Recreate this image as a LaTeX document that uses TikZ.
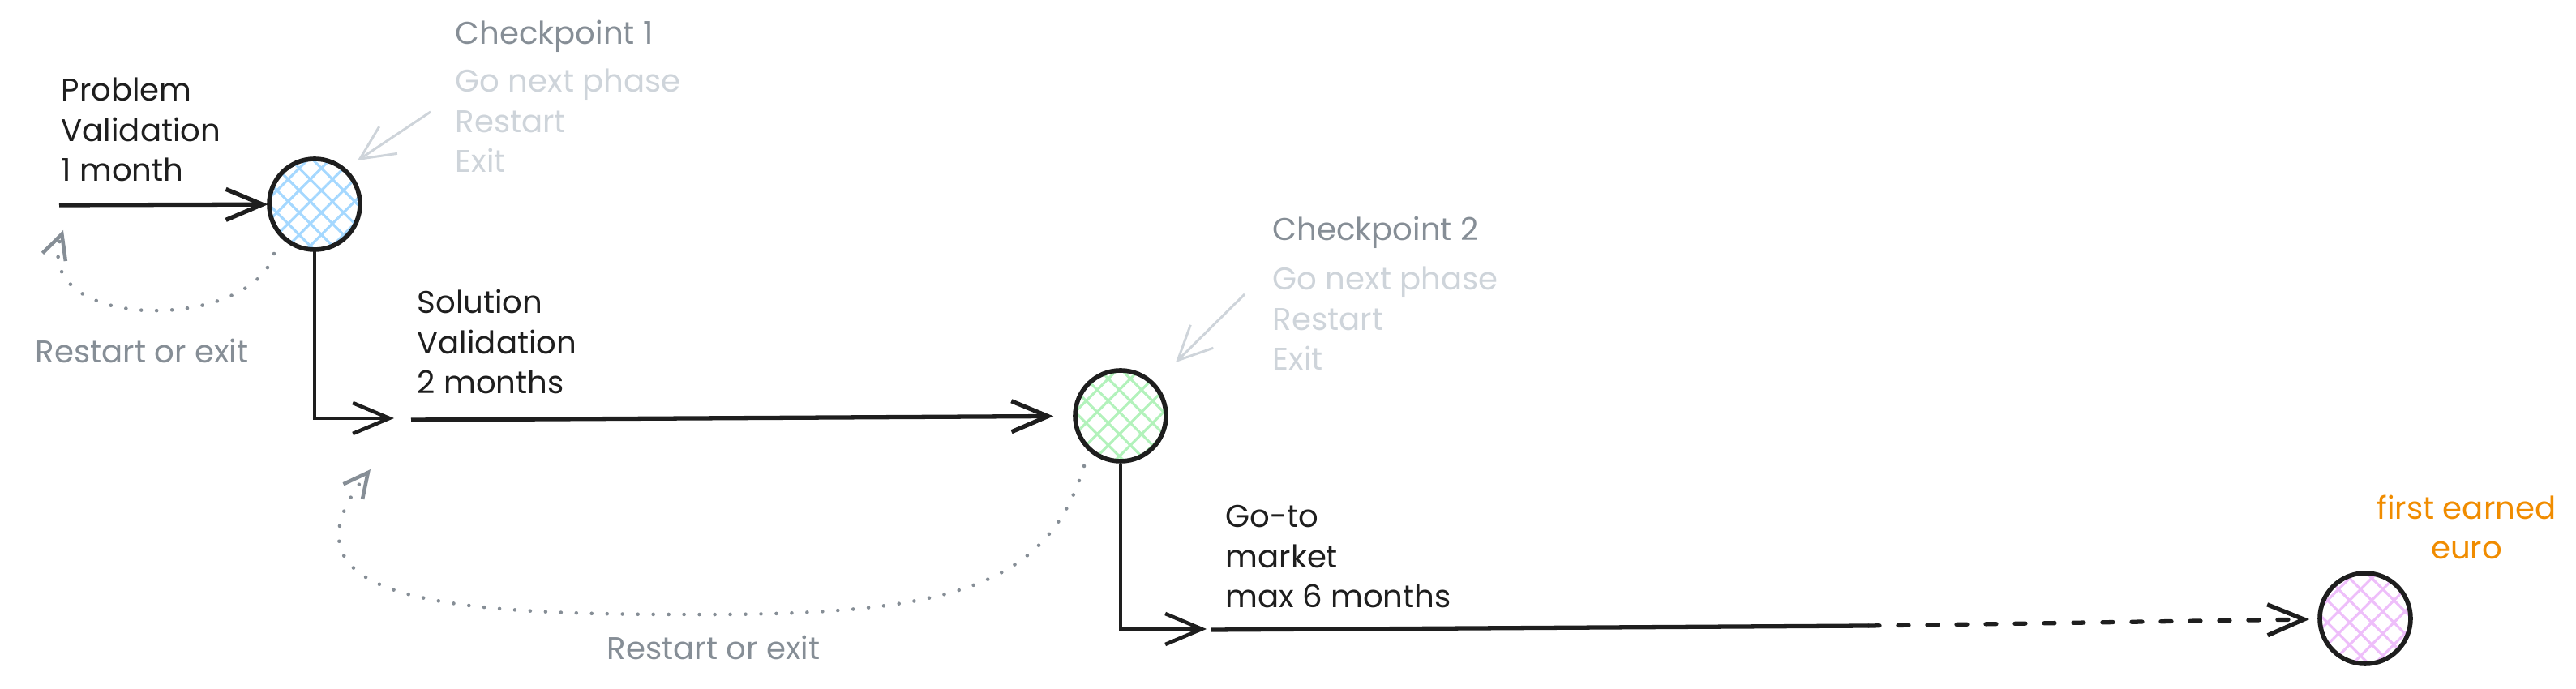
\documentclass[tikz,border=0pt]{standalone}
\usepackage{fontspec}
\setmainfont{Poppins}
\usetikzlibrary{arrows.meta,patterns.meta}
\definecolor{ink}{HTML}{1E1E1E}
\definecolor{note}{HTML}{868E96}
\definecolor{faint}{HTML}{CED4DA}
\definecolor{gold}{HTML}{F08C00}
\definecolor{hatchblue}{HTML}{A5D8FF}
\definecolor{hatchgreen}{HTML}{B2F2BB}
\definecolor{hatchpurple}{HTML}{EEBEFA}
\tikzset{
  gate/.style={circle,draw=ink,line width=1.6pt,minimum size=1.12cm,inner sep=0pt,
    pattern={Hatch[angle=45,distance=5.5pt,line width=0.9pt]},pattern color=#1},
  txt/.style={anchor=base west,align=left,inner sep=0pt,font=\fontsize{11}{14.2}\selectfont},
  phase/.style={txt,text=ink},
  title/.style={txt,text=note},
  choice/.style={txt,text=faint},
  back/.style={anchor=base,inner sep=0pt,text=note,font=\fontsize{11}{14.2}\selectfont},
  goal/.style={anchor=base,align=center,inner sep=0pt,text=gold,font=\fontsize{11}{14.2}\selectfont},
  flow/.style={draw=ink,line width=1.5pt,-{Straight Barb[length=0.45cm,width=0.38cm]}},
  elbow/.style={draw=ink,line width=0.9pt,-{Straight Barb[length=0.45cm,width=0.38cm,line width=1.3pt]}},
  pointer/.style={draw=faint,line width=0.85pt,-{Straight Barb[length=0.42cm,width=0.4cm]}},
  loop/.style={draw=note,line width=1.3pt,line cap=round,dash pattern=on 0pt off 5.4pt,
    -{Straight Barb[length=0.3cm,width=0.3cm]}}
}
\begin{document}
\begin{tikzpicture}
    \useasboundingbox (0,0) rectangle (31.77,-8.5);
    \node[gate=hatchblue] (cp1) at (3.88,-2.52) {};
    \node[gate=hatchgreen] (cp2) at (13.82,-5.13) {};
    \node[gate=hatchpurple] (euro) at (29.17,-7.63) {};
    \node[phase] (pv) at (0.75,-2.24) {Problem\\Validation\\1 month};
    \node[phase] (sv) at (5.14,-4.86) {Solution\\Validation\\2 months};
    \node[phase] (gm) at (15.11,-7.50) {Go-to\\market\\max 6 months};
    \node[title] (t1) at (5.61,-0.55) {Checkpoint 1};
    \node[choice] (o1) at (5.61,-2.13) {Go next phase\\Restart\\Exit};
    \node[title] (t2) at (15.69,-2.97) {Checkpoint 2};
    \node[choice] (o2) at (15.69,-4.57) {Go next phase\\Restart\\Exit};
    \node[goal] (g) at (30.42,-6.90) {first earned\\euro};
    \node[back] (r1) at (1.75,-4.48) {Restart or exit};
    \node[back] (r2) at (8.80,-8.14) {Restart or exit};
    \coordinate (in1) at (0.73,-2.53);
    \coordinate (bend1) at (4.86,-5.16);
    \coordinate (in2) at (5.07,-5.18);
    \coordinate (bend2) at (14.88,-7.76);
    \coordinate (in3) at (14.94,-7.77);
    \coordinate (open3) at (23.05,-7.72);
    \coordinate (h1) at (5.31,-1.38);
    \coordinate (h1e) at (4.41,-1.98);
    \coordinate (h2) at (15.35,-3.63);
    \coordinate (h2e) at (14.50,-4.47);
    \coordinate (l1s) at (3.38,-3.13);
    \coordinate (l1e) at (0.78,-2.84);
    \coordinate (l2s) at (13.37,-5.75);
    \coordinate (l2e) at (4.57,-5.79);
    \draw[flow] (in1) -- (cp1);
    \draw[elbow] (cp1) |- (bend1);
    \draw[flow,shorten >=0.24cm] (in2) -- (cp2);
    \draw[elbow] (cp2) |- (bend2);
    \draw[ink,line width=1.5pt] (in3) -- (open3);
    \draw[flow,line cap=round,dash pattern=on 0.13cm off 0.23cm,shorten >=0.1cm] (open3) -- (euro);
    \draw[pointer] (h1) -- (h1e);
    \draw[pointer] (h2) -- (h2e);
    \draw[loop] (l1s) .. controls (3.1,-4.1) and (0.35,-4.1) .. (l1e);
    \draw[loop] (l2s) .. controls (12.9,-7.3) and (11.6,-7.6) .. (8.4,-7.58)
        .. controls (5.5,-7.58) and (3.3,-7.4) .. (l2e);
\end{tikzpicture}
\end{document}
